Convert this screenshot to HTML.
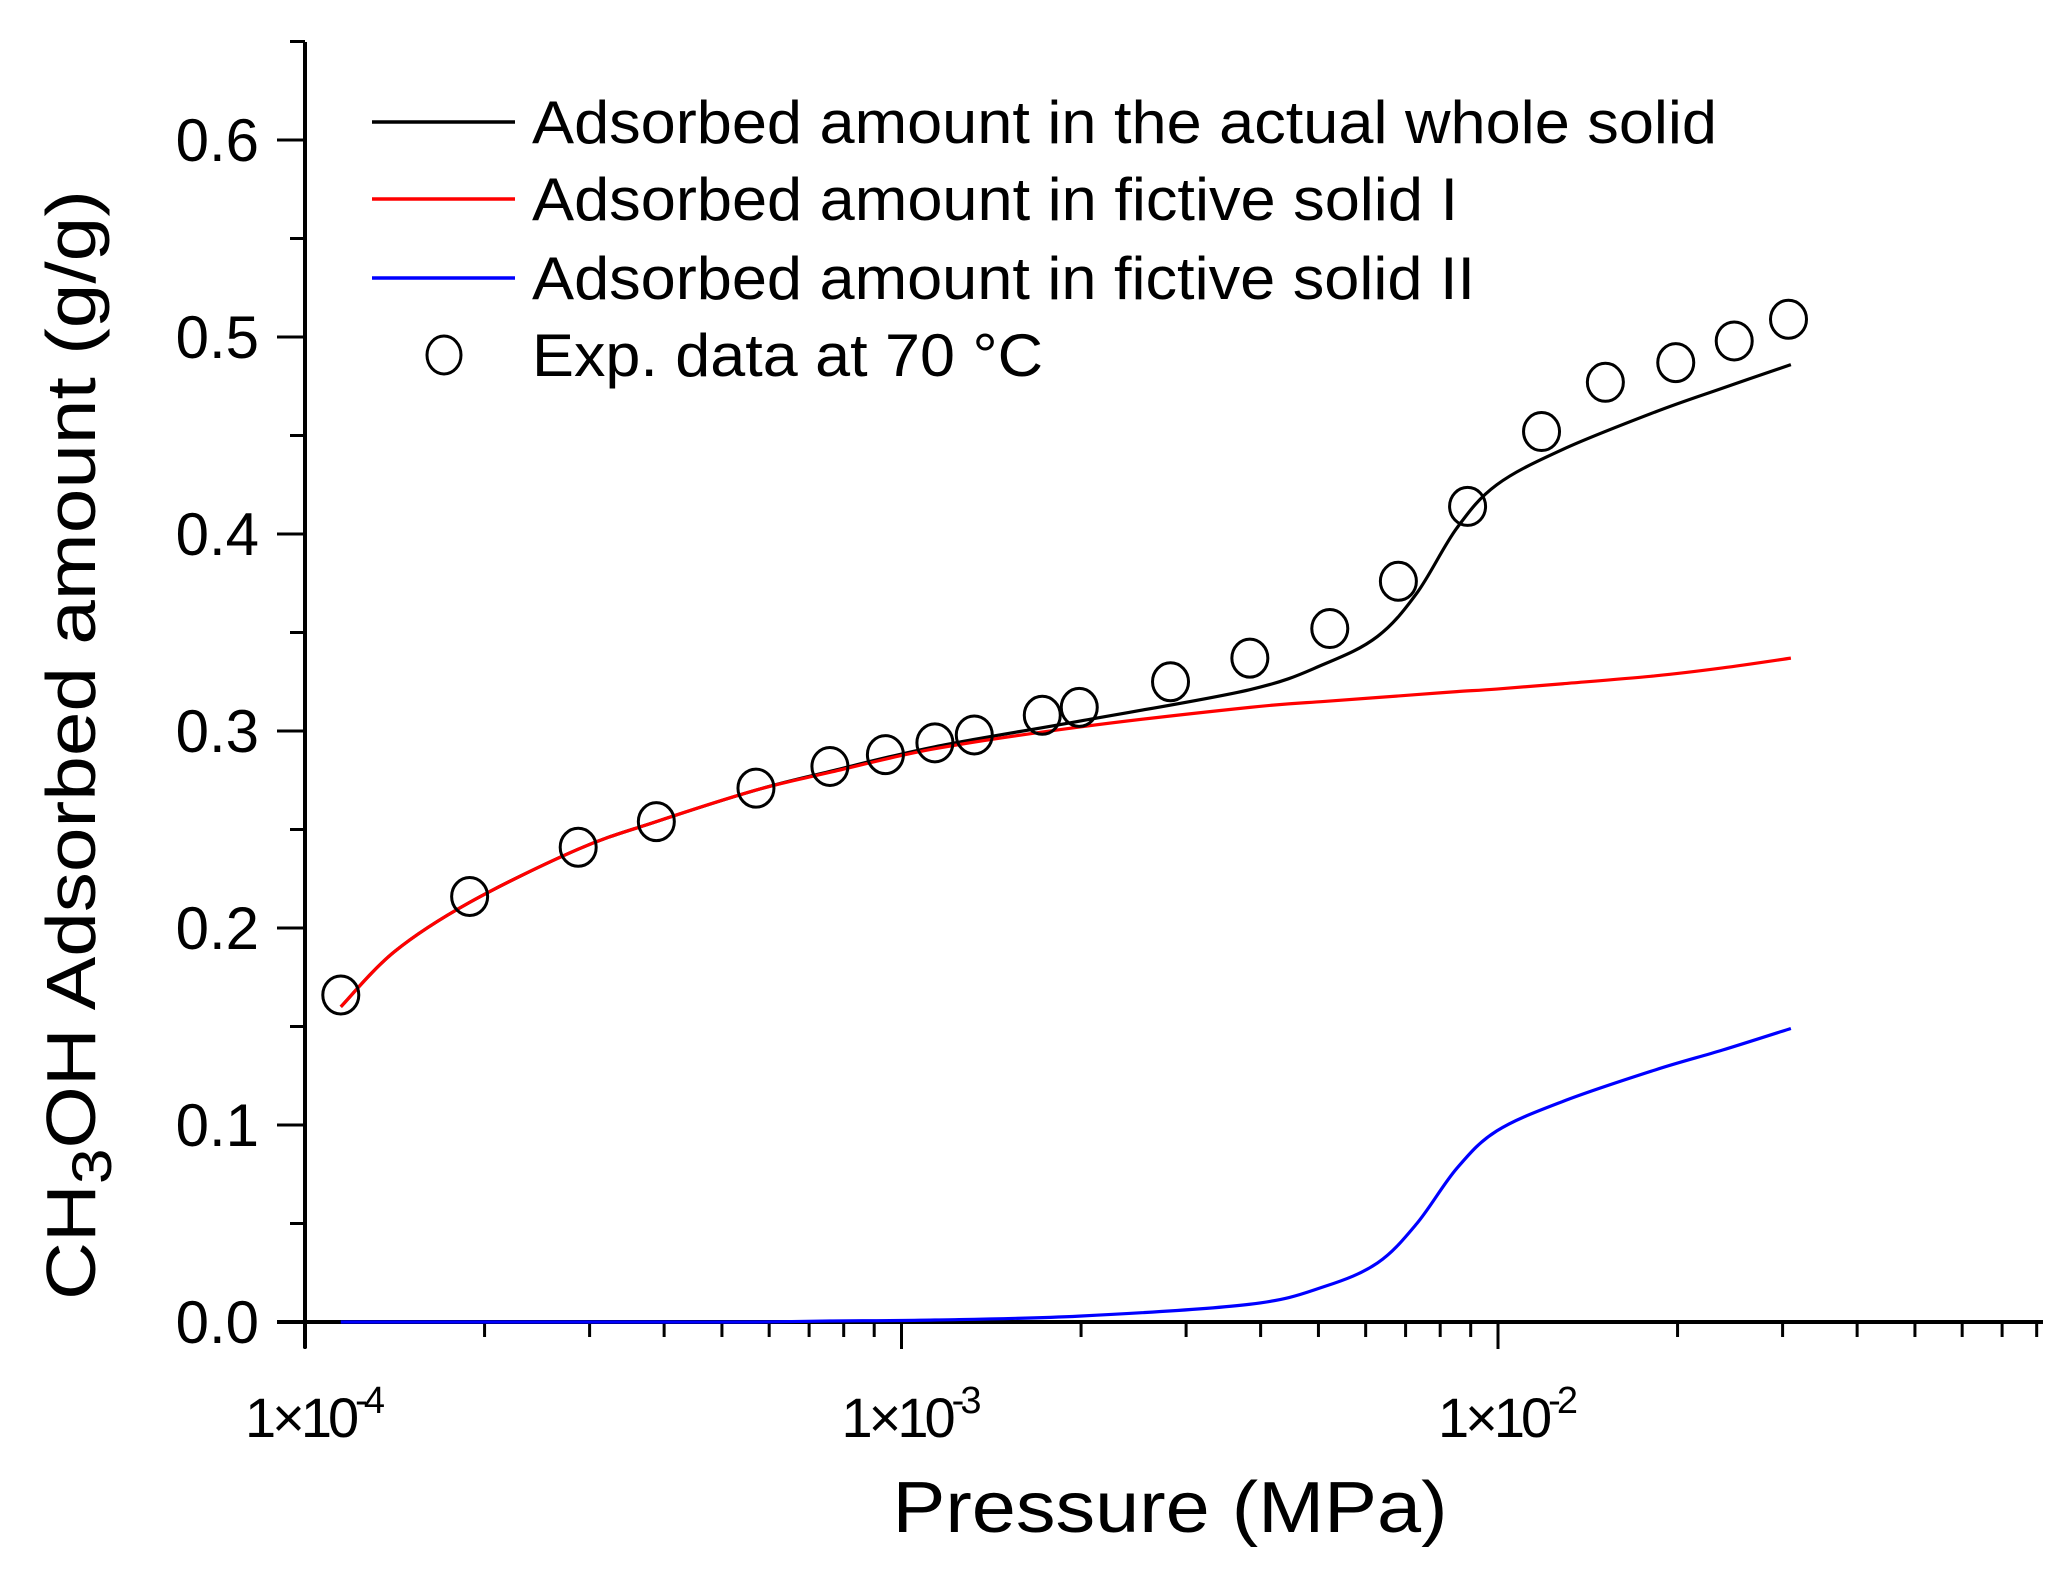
<!DOCTYPE html>
<html><head><meta charset="utf-8"><style>
html,body{margin:0;padding:0;background:#fff;}
svg{display:block;font-family:"Liberation Sans",Arial,sans-serif;}
</style></head><body>
<svg id="chart" width="2072" height="1576" viewBox="0 0 2072 1576">
<g id="axes"></g>
<g id="series"></g>
<g id="legend"></g>
</svg>
<script>
// ---- data ----
const curveLogP = [-3.940,-3.850,-3.724,-3.542,-3.411,-3.244,-3.120,-2.944,-2.702,-2.416,-2.291,-2.202,-2.136,-2.069,-2.002,-1.891,-1.736,-1.624,-1.509];
const fictiveI  = [0.160,0.188,0.213,0.240,0.254,0.270,0.279,0.291,0.302,0.312,0.315,0.317,0.3185,0.320,0.3213,0.324,0.328,0.332,0.337];
const fictiveII = [0.000,0.000,0.000,0.000,0.000,0.000,0.0005,0.001,0.003,0.009,0.018,0.030,0.050,0.078,0.097,0.112,0.128,0.138,0.149];
const wholeSolid= [0.160,0.188,0.213,0.240,0.254,0.270,0.2795,0.292,0.305,0.321,0.334,0.348,0.370,0.403,0.425,0.443,0.462,0.474,0.486];
const expLogP = [-3.940,-3.724,-3.542,-3.411,-3.244,-3.120,-3.027,-2.944,-2.878,-2.764,-2.702,-2.549,-2.416,-2.282,-2.167,-2.051,-1.927,-1.820,-1.702,-1.604,-1.513];
const expAmount = [0.166,0.216,0.241,0.254,0.271,0.282,0.288,0.294,0.298,0.308,0.312,0.325,0.337,0.352,0.376,0.414,0.452,0.477,0.487,0.498,0.509];
const yTicks = [0.0,0.1,0.2,0.3,0.4,0.5,0.6];
const yTickLabels = ["0.0","0.1","0.2","0.3","0.4","0.5","0.6"];
const xDecades = [-4,-3,-2];
const xTickExp = ["-4","-3","-2"];

// ---- scales ----
const X0=305, DEC=596.5, Y0=1322, PER=1970;
const sx = l => X0 + (l+4)*DEC;
const sy = v => Y0 - v*PER;
const NS="http://www.w3.org/2000/svg";
function mk(tag, attrs, parent){const e=document.createElementNS(NS,tag);for(const k in attrs)e.setAttribute(k,attrs[k]);parent.appendChild(e);return e;}
const axes=document.getElementById('axes'), series=document.getElementById('series'), legend=document.getElementById('legend');

let e;
e=mk('line',{x1:305,y1:42,x2:305,y2:1348,stroke:'#000','stroke-width':4},axes);


e=mk('line',{x1:277,y1:1322,x2:2043,y2:1322,stroke:'#000','stroke-width':4},axes);



for(let i=0;i<=13;i++){
  const v=i*0.05, y=sy(v), major=(i%2===0);
  e=mk('line',{x1:major?277:290,y1:y,x2:305,y2:y,stroke:'#000','stroke-width':3},axes);
  
  
}
yTicks.forEach((v,i)=>{
  const t=mk('text',{x:259,y:sy(v)+21,'text-anchor':'end','font-size':60,fill:'#000'},axes);
  t.textContent=yTickLabels[i];
  
  
});
for(let d=-4;d<=-2;d++){
  for(let m=1;m<=9;m++){
    const l=d+Math.log10(m), x=sx(l);
    if(x>2045) continue;
    e=mk('line',{x1:x,y1:1322,x2:x,y2:m===1?1349:1337,stroke:'#000','stroke-width':3},axes);
    
    
  }
}
xDecades.forEach((d,i)=>{
  const t=mk('text',{x:sx(d)+8,y:1437,'text-anchor':'middle','font-size':56,fill:'#000','letter-spacing':-4},axes);
  t.innerHTML='1×10<tspan dy="-24" font-size="38">'+xTickExp[i]+'</tspan>';
  
  
});
e=mk('text',{x:1170,y:1532,'text-anchor':'middle','font-size':72,fill:'#000',textLength:555,lengthAdjust:'spacingAndGlyphs'},axes);
e.textContent='Pressure (MPa)';


e=mk('text',{transform:'translate(95,745) rotate(-90)','text-anchor':'middle','font-size':70,fill:'#000',textLength:1110,lengthAdjust:'spacingAndGlyphs'},axes);
e.innerHTML='CH<tspan dy="16" font-size="56">3</tspan><tspan dy="-16">OH Adsorbed amount (g/g)</tspan>';



function pathFrom(xs,ys){
  const p=xs.map((l,i)=>[sx(l),sy(ys[i])]);
  let d='M'+p[0][0]+','+p[0][1];
  for(let i=0;i<p.length-1;i++){
    const p0=p[Math.max(0,i-1)],p1=p[i],p2=p[i+1],p3=p[Math.min(p.length-1,i+2)];
    const c1=[p1[0]+(p2[0]-p0[0])/6,p1[1]+(p2[1]-p0[1])/6];
    const c2=[p2[0]-(p3[0]-p1[0])/6,p2[1]-(p3[1]-p1[1])/6];
    d+=' C'+c1[0]+','+c1[1]+' '+c2[0]+','+c2[1]+' '+p2[0]+','+p2[1];
  }
  return d;
}
e=mk('path',{d:pathFrom(curveLogP,fictiveII),fill:'none',stroke:'#0000ff','stroke-width':3.2},series);


e=mk('path',{d:pathFrom(curveLogP,wholeSolid),fill:'none',stroke:'#000','stroke-width':3.2},series);


e=mk('path',{d:pathFrom(curveLogP,fictiveI),fill:'none',stroke:'#ff0000','stroke-width':3.2},series);


expLogP.forEach((l,i)=>{
  const c=mk('ellipse',{cx:sx(l),cy:sy(expAmount[i]),rx:18,ry:19,fill:'none',stroke:'#000','stroke-width':3},series);
  
  
});

const legItems=[
  {c:'#000',t:'Adsorbed amount in the actual whole solid',y:122,w:1185,n:'legend-entry-whole-solid'},
  {c:'#ff0000',t:'Adsorbed amount in fictive solid I',y:199,w:926,n:'legend-entry-fictive-solid-i'},
  {c:'#0000ff',t:'Adsorbed amount in fictive solid II',y:278,w:943,n:'legend-entry-fictive-solid-ii'}
];
legItems.forEach(it=>{
  const g=mk('g',{},legend);
  
  
  mk('line',{x1:372,y1:it.y,x2:515,y2:it.y,stroke:it.c,'stroke-width':3.5},g);
  const t=mk('text',{x:532,y:it.y+21,'font-size':60,fill:'#000',textLength:it.w,lengthAdjust:'spacingAndGlyphs'},g);
  t.textContent=it.t;
});
const g4=mk('g',{},legend);


mk('ellipse',{cx:444,cy:355,rx:17,ry:19,fill:'none',stroke:'#000','stroke-width':3},g4);
const t4=mk('text',{x:532,y:376,'font-size':60,fill:'#000',textLength:511,lengthAdjust:'spacingAndGlyphs'},g4);
t4.textContent='Exp. data at 70 °C';
</script>
</body></html>
